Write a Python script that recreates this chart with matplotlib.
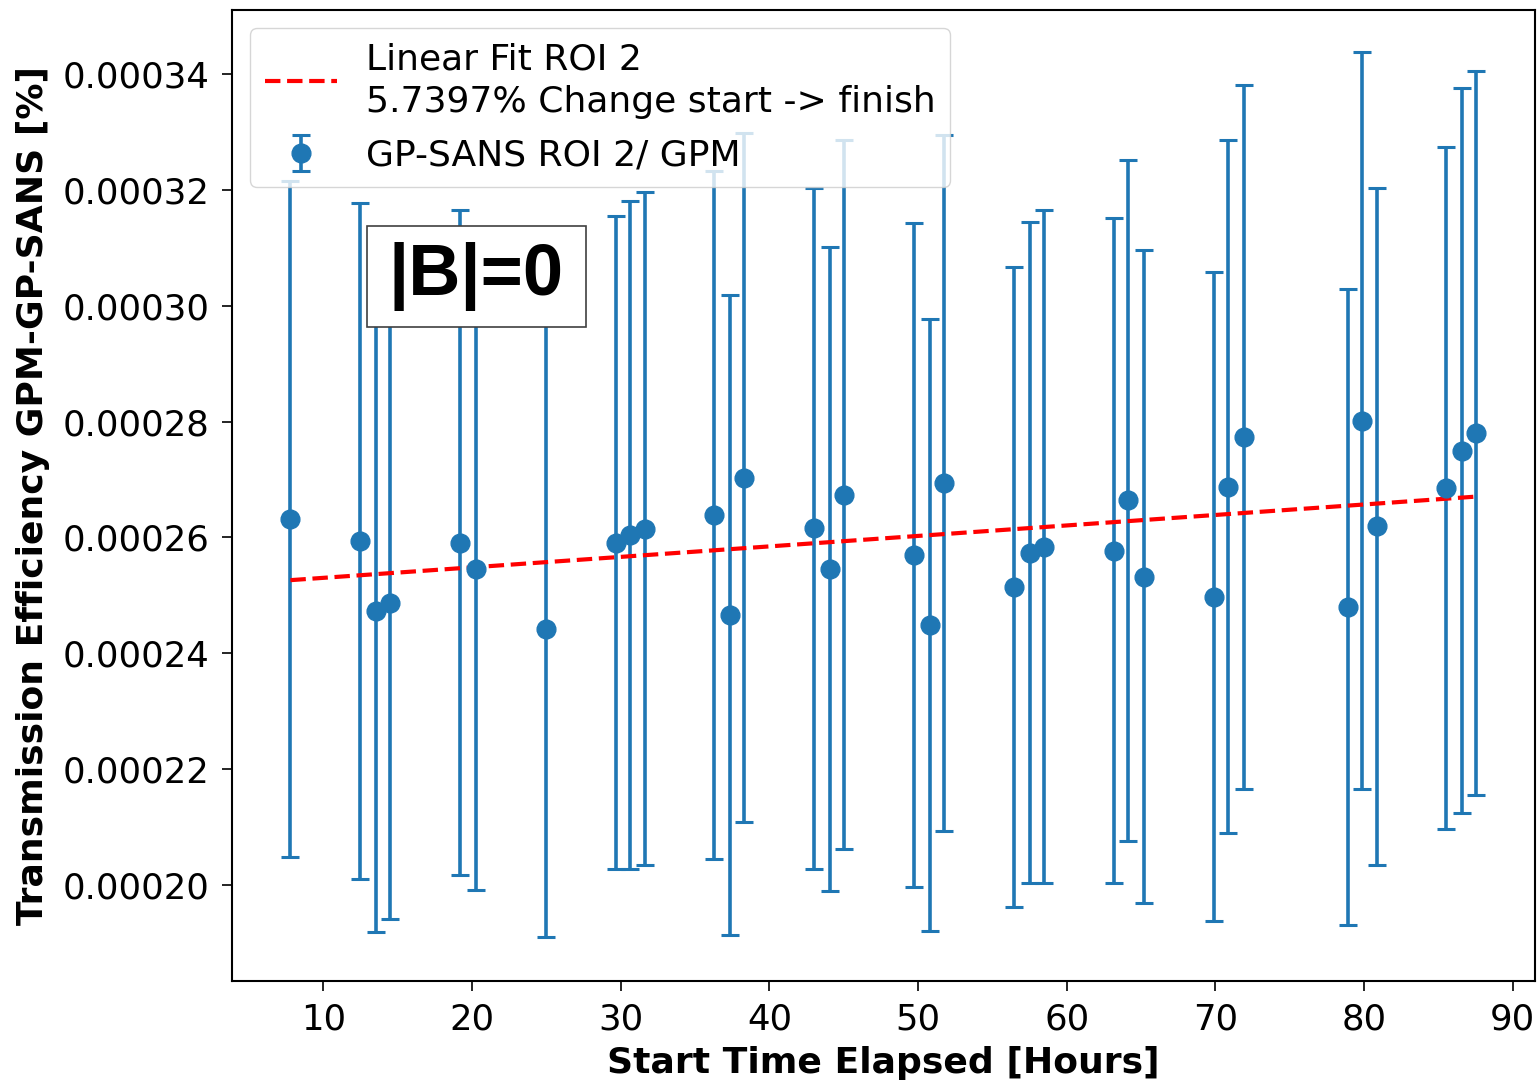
import numpy as np
import matplotlib
matplotlib.use("Agg")
import matplotlib.pyplot as plt
from matplotlib.patches import Rectangle

# ---- data ----
hours = [7.78, 12.49, 13.54, 14.50, 19.21, 20.29, 24.99, 29.70, 30.60, 31.60,
         36.29, 37.36, 38.32, 43.01, 44.08, 45.05, 49.73, 50.81, 51.77,
         56.45, 57.53, 58.47, 63.21, 64.15, 65.23, 69.93, 70.87, 71.94,
         78.94, 79.87, 80.86, 85.54, 86.59, 87.53]
eff_e4 = [2.632, 2.594, 2.473, 2.486, 2.591, 2.545, 2.442, 2.591, 2.604, 2.615,
          2.639, 2.466, 2.703, 2.616, 2.545, 2.674, 2.570, 2.449, 2.694,
          2.515, 2.574, 2.584, 2.577, 2.664, 2.532, 2.498, 2.688, 2.774,
          2.480, 2.802, 2.619, 2.685, 2.750, 2.781]
err_e4 = [0.584, 0.584, 0.554, 0.545, 0.574, 0.553, 0.532, 0.564, 0.577, 0.581,
          0.594, 0.552, 0.595, 0.588, 0.556, 0.612, 0.573, 0.529, 0.601,
          0.553, 0.571, 0.581, 0.574, 0.588, 0.564, 0.561, 0.599, 0.608,
          0.550, 0.636, 0.585, 0.589, 0.626, 0.625]

x = np.array(hours)
y = np.array(eff_e4) * 1e-4
yerr = np.array(err_e4) * 1e-4

fit_label = "Linear Fit ROI 2\n5.7397% Change start -> finish"
data_label = "GP-SANS ROI 2/ GPM"
xlabel = "Start Time Elapsed [Hours]"
ylabel = "Transmission Efficiency GPM-GP-SANS [%]"
box_text = "|B|=0"

# ---- figure ----
W, H = 1538, 1083
fig = plt.figure(figsize=(W / 100, H / 100), dpi=100)
ax = fig.add_axes([232 / W, 1 - 981 / H, (1535 - 232) / W, (981 - 10) / H])

FS = 26
blue = "#1f77b4"

ax.errorbar(x, y, yerr=yerr, fmt="o", color=blue, markersize=13.5,
            elinewidth=2.6, capsize=6.4, capthick=2.2, label=data_label)

coef = np.polyfit(x, y, 1)
xf = np.array([x.min(), x.max()])
ax.plot(xf, np.polyval(coef, xf), "--", color="red", linewidth=3.0,
        label=fit_label)

ax.set_xlim(3.85, 91.5)
ax.set_ylim(1.834e-4, 3.511e-4)
ax.set_xticks([10, 20, 30, 40, 50, 60, 70, 80, 90])
ax.set_yticks([2.0e-4, 2.2e-4, 2.4e-4, 2.6e-4, 2.8e-4, 3.0e-4, 3.2e-4, 3.4e-4])

ax.tick_params(axis="both", labelsize=25.6, length=7.2, width=1.2)
ax.tick_params(axis="x", pad=8)
ax.tick_params(axis="y", pad=9)
for s in ax.spines.values():
    s.set_linewidth(1.5)

ax.set_xlabel(xlabel, fontsize=FS, fontweight="bold")
ax.set_ylabel(ylabel, fontsize=FS, fontweight="bold")
ax.xaxis.set_label_coords(0.5, -0.067)
ax.yaxis.set_label_coords(-0.140, 0.5)

# annotation box
ax.add_patch(Rectangle((0.1036, 0.6735), 0.2717 - 0.1036, 0.7775 - 0.6735,
                       transform=ax.transAxes, facecolor="white",
                       edgecolor="0.25", linewidth=1.2, zorder=5))
ax.text(0.1875, 0.7255, box_text, transform=ax.transAxes, ha="center",
        va="center", fontsize=52, fontweight="bold",
        family=["Liberation Sans", "DejaVu Sans"], zorder=6)

leg = ax.legend(loc="upper left", fontsize=FS, labelspacing=0.55)
for t in leg.get_texts():
    t.set_linespacing(1.3)
leg.set_zorder(10)

fig.savefig("out.png", dpi=100)
